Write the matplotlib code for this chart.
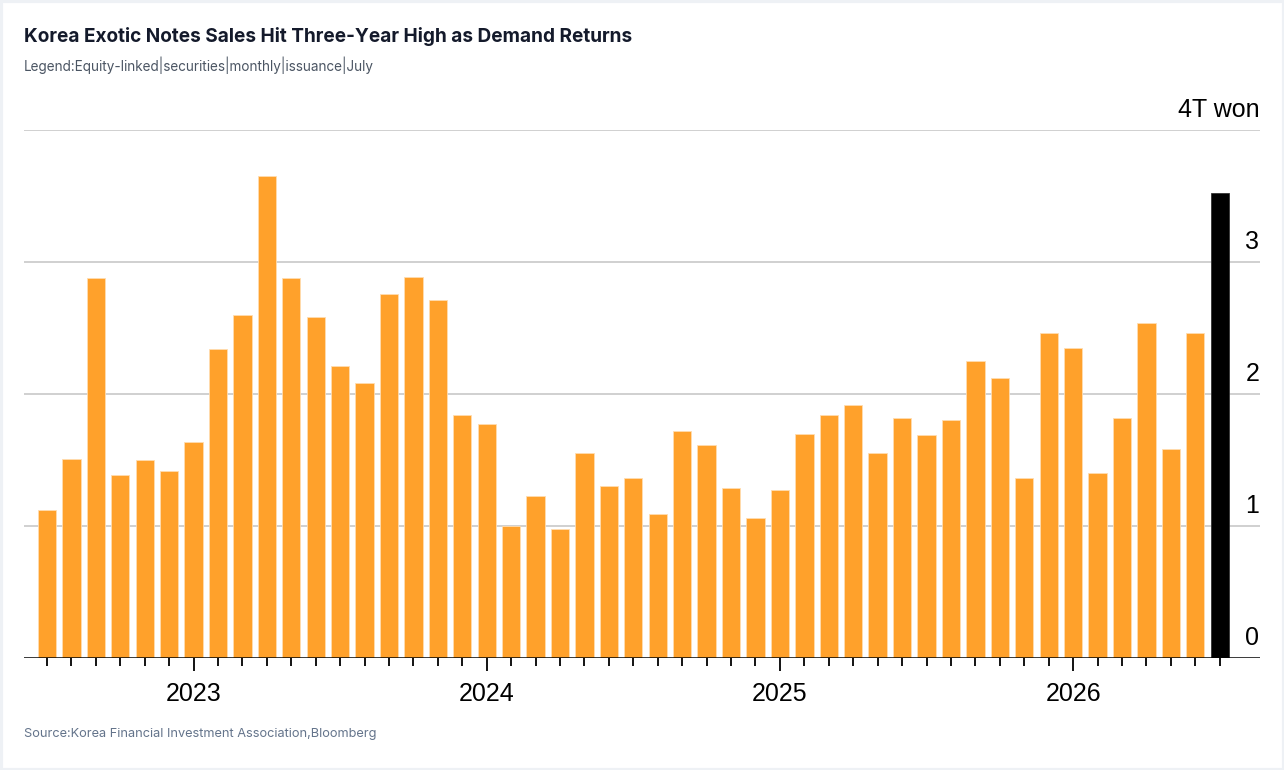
import matplotlib
matplotlib.use("Agg")
import matplotlib.pyplot as plt
from matplotlib.patches import Rectangle

# ---- data ----
values = [1.12, 1.51, 2.88, 1.39, 1.50, 1.42, 1.64, 2.34, 2.60, 3.65,
          2.88, 2.58, 2.21, 2.08, 2.76, 2.89, 2.71, 1.84, 1.77, 1.00,
          1.23, 0.98, 1.55, 1.30, 1.36, 1.09, 1.72, 1.61, 1.29, 1.06,
          1.27, 1.70, 1.84, 1.92, 1.55, 1.82, 1.69, 1.80, 2.25, 2.12,
          1.36, 2.46, 2.35, 1.40, 1.82, 2.54, 1.58, 2.46]
latest_value = 3.52
year_labels = ["2023", "2024", "2025", "2026"]
year_positions = [6, 18, 30, 42]
ytick_values = [0, 1, 2, 3, 4]
ytick_labels = ["0", "1", "2", "3", "4T won"]

title = "Korea Exotic Notes Sales Hit Three-Year High as Demand Returns"
subtitle = "Legend:Equity-linked|securities|monthly|issuance|July"
source = "Source:Korea Financial Investment Association,Bloomberg"

W, H = 1284, 770
fig = plt.figure(figsize=(W / 100, H / 100), dpi=100)
fig.patch.set_facecolor("white")

# card border
fig.patches.append(Rectangle((0.5 / W, 0.5 / H), 1 - 1.0 / W, 1 - 1.0 / H,
                             transform=fig.transFigure, fill=False,
                             edgecolor="#eef1f5", linewidth=3, zorder=0))

ax_left, ax_right = 24 / W, 1260 / W
ax_bottom, ax_top = 1 - 658 / H, 1 - 130 / H
ax = fig.add_axes([ax_left, ax_bottom, ax_right - ax_left, ax_top - ax_bottom])

n = len(values)
xs = list(range(n))
ax.bar(xs, values, width=0.75, color="#FFA12B", edgecolor="#FFDDB0",
       linewidth=0.6, zorder=3)
ax.bar([n], [latest_value], width=0.75, color="#000000", edgecolor="#333333",
       linewidth=0.6, zorder=3)

ax.set_xlim(-0.94, 49.65)
ax.set_ylim(0, 4)

# gridlines
for v in ytick_values[1:]:
    ax.axhline(v, color="#d0d0d0", linewidth=1.4, zorder=1)
ax.axhline(0, color="black", linewidth=1.8, zorder=4)

# y labels on right, above gridlines
for v, lab in zip(ytick_values, ytick_labels):
    ax.annotate(lab, xy=(1.0, v), xycoords=("axes fraction", "data"),
                xytext=(-0.5, 6), textcoords="offset points",
                ha="right", va="bottom", fontsize=18,
                family="Liberation Sans", color="black")

# x ticks
all_pos = list(range(n + 1))
minor_pos = [p for p in all_pos if p not in year_positions]
ax.set_xticks(year_positions)
ax.set_xticklabels(year_labels, fontsize=18, family="Liberation Sans")
ax.set_xticks(minor_pos, minor=True)
ax.tick_params(axis="x", which="major", length=9.5, width=1.3, color="black", pad=7.5)
ax.tick_params(axis="x", which="minor", length=5.8, width=1.3, color="black")
ax.set_yticks([])

for s in ax.spines.values():
    s.set_visible(False)

# texts
fig.text(24 / W, 1 - 36.5 / H, title, fontsize=13.7, fontweight="bold",
         family="Inter", color="#141a2b", ha="left", va="center")
fig.text(24 / W, 1 - 65.5 / H, subtitle, fontsize=9.75, family="Inter",
         color="#4b5563", ha="left", va="center")
fig.text(24 / W, 1 - 734 / H, source, fontsize=9.2, family="Inter",
         color="#64748b", ha="left", va="center")

fig.savefig("out.png", dpi=100)
